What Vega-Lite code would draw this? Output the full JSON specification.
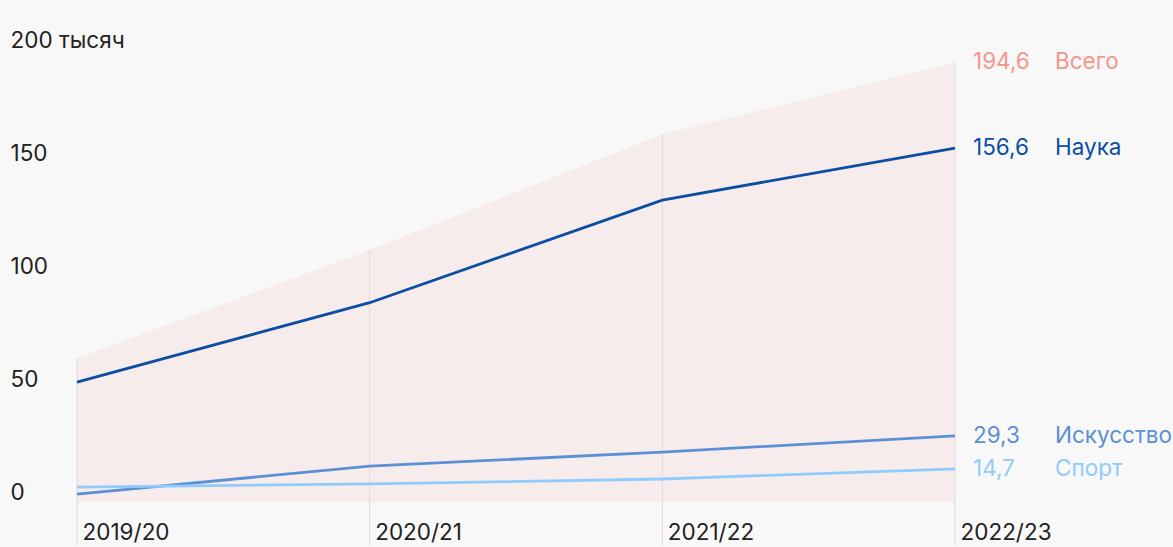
{
  "$schema": "https://vega.github.io/schema/vega-lite/v6.json",
  "width": 878,
  "height": 495,
  "autosize": {"type": "none"},
  "padding": {"left": 77, "top": 50, "right": 218, "bottom": 2},
  "background": "#f8f8f8",
  "config": {
    "view": {"stroke": null},
    "font": "Inter",
    "locale": {"number": {"decimal": ",", "thousands": " ", "grouping": [3], "currency": ["", " ₽"]}}
  },
  "data": {
    "values": [
      {"year": "2019/20", "series": "Всего", "value": 63.6},
      {"year": "2020/21", "series": "Всего", "value": 111.5},
      {"year": "2021/22", "series": "Всего", "value": 162.7},
      {"year": "2022/23", "series": "Всего", "value": 194.6},
      {"year": "2019/20", "series": "Наука", "value": 53.1},
      {"year": "2020/21", "series": "Наука", "value": 88.2},
      {"year": "2021/22", "series": "Наука", "value": 133.6},
      {"year": "2022/23", "series": "Наука", "value": 156.6},
      {"year": "2019/20", "series": "Искусство", "value": 3.5},
      {"year": "2020/21", "series": "Искусство", "value": 15.9},
      {"year": "2021/22", "series": "Искусство", "value": 22.1},
      {"year": "2022/23", "series": "Искусство", "value": 29.3},
      {"year": "2019/20", "series": "Спорт", "value": 6.6},
      {"year": "2020/21", "series": "Спорт", "value": 8.0},
      {"year": "2021/22", "series": "Спорт", "value": 10.2},
      {"year": "2022/23", "series": "Спорт", "value": 14.7}
    ]
  },
  "encoding": {
    "x": {
      "field": "year",
      "type": "ordinal",
      "scale": {"type": "point", "padding": 0, "domain": ["2019/20", "2020/21", "2021/22", "2022/23"]},
      "axis": {
        "title": null,
        "domain": false,
        "ticks": false,
        "tickSize": 0,
        "grid": false,
        "labelAngle": 0,
        "labelOverlap": false,
        "labelFlush": false,
        "labelAlign": "left",
        "labelBaseline": "top",
        "labelPadding": -24,
        "labelOffset": 5,
        "labelFontSize": 22.5,
        "labelColor": "#222222",
        "labelFont": "Inter"
      }
    },
    "y": {
      "field": "value",
      "type": "quantitative",
      "scale": {"domain": [-19, 200], "nice": false, "zero": false},
      "axis": {
        "title": null,
        "domain": false,
        "ticks": false,
        "tickSize": 0,
        "grid": false,
        "values": [0, 50, 100, 150, 200],
        "labelExpr": "datum.value == 200 ? '200 тысяч' : datum.label",
        "labelAlign": "left",
        "labelBaseline": "alphabetic",
        "labelOffset": -2.5,
        "labelPadding": 67,
        "labelFlush": false,
        "labelOverlap": false,
        "labelFontSize": 22.5,
        "labelColor": "#222222",
        "labelFont": "Inter"
      }
    },
    "color": {
      "field": "series",
      "type": "nominal",
      "scale": {
        "domain": ["Всего", "Наука", "Искусство", "Спорт"],
        "range": ["#f4968c", "#0b4ea2", "#5b8fd6", "#8fcbfd"]
      },
      "legend": null
    }
  },
  "layer": [
    {
      "transform": [{"filter": "datum.series == 'Всего'"}],
      "mark": {"type": "area", "color": "#f7ecec", "opacity": 1},
      "encoding": {"y2": {"datum": 0}, "color": {"value": "#f7ecec"}}
    },
    {
      "transform": [{"filter": "datum.series == 'Всего'"}],
      "mark": {"type": "rule", "strokeWidth": 1},
      "encoding": {"y2": {"datum": -19}, "color": {"value": "#e0dada"}}
    },
    {
      "transform": [{"filter": "datum.series != 'Всего'"}],
      "mark": {"type": "line", "strokeWidth": 2.8, "interpolate": "linear"}
    },
    {
      "transform": [{"filter": "datum.year == '2022/23'"}],
      "mark": {"type": "text", "align": "left", "baseline": "middle", "dx": 18, "fontSize": 22.5, "font": "Inter"},
      "encoding": {"text": {"field": "value", "type": "quantitative", "format": ".1f"}}
    },
    {
      "transform": [{"filter": "datum.year == '2022/23'"}],
      "mark": {"type": "text", "align": "left", "baseline": "middle", "dx": 100, "fontSize": 22.5, "font": "Inter"},
      "encoding": {"text": {"field": "series", "type": "nominal"}}
    }
  ]
}
